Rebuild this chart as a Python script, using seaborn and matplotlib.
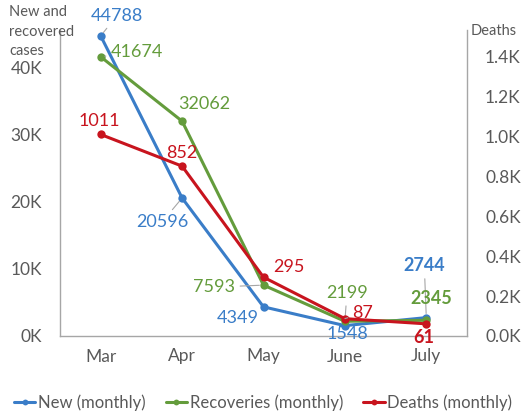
import matplotlib
matplotlib.use('Agg')
import matplotlib.pyplot as plt
import seaborn as sns
from matplotlib.ticker import FuncFormatter, MultipleLocator

months = ['Mar', 'Apr', 'May', 'June', 'July']
new_cases = [44788, 20596, 4349, 1548, 2744]
recoveries = [41674, 32062, 7593, 2199, 2345]
deaths = [1011, 852, 295, 87, 61]

BLUE = '#3A7DC8'
GREEN = '#649C3C'
RED = '#C8141E'
GREY_TXT = '#595959'
SPINE = '#A6A6A6'

# label offsets in pixels (dx, dy), leader line flag, bold flag
new_lbl = [(16, 20, True, False), (-20, -24, True, False), (-26, -11, False, False),
           (2, -8, False, False), (-2, 52, True, True)]
rec_lbl = [(36, 5, True, False), (22, 17, False, False), (-49, -2, True, False),
           (2, 28, True, False), (5, 22, False, True)]
dth_lbl = [(-1, 13, False, False), (0, 13, False, False), (25, 10, False, False),
           (18, 6, True, False), (-3, -14, False, True)]

sns.set_style('white')
plt.rcParams['font.family'] = ['Lato', 'DejaVu Sans']

fig = plt.figure(figsize=(5.26, 4.16), dpi=100)
ax = fig.add_axes([60 / 526, 1 - 336 / 416, (467 - 60) / 526, (336 - 30) / 416])
ax2 = ax.twinx()

sns.lineplot(x=months, y=new_cases, ax=ax, color=BLUE, marker='o', linewidth=2.2,
             markersize=6, markeredgewidth=0, label='New (monthly)', legend=False)
sns.lineplot(x=months, y=recoveries, ax=ax, color=GREEN, marker='o', linewidth=2.2,
             markersize=6, markeredgewidth=0, label='Recoveries (monthly)', legend=False)
sns.lineplot(x=months, y=deaths, ax=ax2, color=RED, marker='o', linewidth=2.2,
             markersize=6, markeredgewidth=0, label='Deaths (monthly)', legend=False)

ax.set_xlim(-0.5, 4.5)
ax.set_ylim(0, 45670)
ax2.set_ylim(0, 1535)
ax.yaxis.set_major_locator(MultipleLocator(10000))
ax2.yaxis.set_major_locator(MultipleLocator(200))
ax.yaxis.set_major_formatter(FuncFormatter(lambda v, p: f'{v / 1000:.0f}K'))
ax2.yaxis.set_major_formatter(FuncFormatter(lambda v, p: f'{v / 1000:.1f}K'))
ax.set_xlabel('')
ax.set_ylabel('')
ax2.set_ylabel('')

for a in (ax, ax2):
    a.tick_params(axis='both', length=0, labelsize=12.5, labelcolor=GREY_TXT)
    a.grid(False)
    for s in a.spines.values():
        s.set_color(SPINE)
        s.set_linewidth(1)
    a.spines['top'].set_visible(False)
ax.tick_params(axis='y', pad=13)
ax2.tick_params(axis='y', pad=13)
ax.tick_params(axis='x', pad=9)
ax.spines['right'].set_visible(False)
ax2.spines['left'].set_visible(False)
ax2.spines['bottom'].set_visible(False)


def add_labels(axis, values, specs, color):
    for i, (v, (dx, dy, leader, bold)) in enumerate(zip(values, specs)):
        kw = {}
        if leader:
            kw['arrowprops'] = dict(arrowstyle='-', color=SPINE, lw=0.8, shrinkA=1, shrinkB=3)
        axis.annotate(str(v), xy=(i, v), xytext=(dx, dy), textcoords='offset pixels',
                      ha='center', va='center', fontsize=13, color=color,
                      fontweight='bold' if bold else 'normal', **kw)


add_labels(ax, new_cases, new_lbl, BLUE)
add_labels(ax, recoveries, rec_lbl, GREEN)
add_labels(ax2, deaths, dth_lbl, RED)

fig.text(9 / 526, 1 - 5 / 416, 'New and\nrecovered\ncases', ha='left', va='top',
         fontsize=10.5, color=GREY_TXT, linespacing=1.5)
fig.text(471 / 526, 1 - 31 / 416, 'Deaths', ha='left', va='center',
         fontsize=10.5, color=GREY_TXT)

handles = ax.get_lines()[:2] + ax2.get_lines()[:1]
labels = ['New (monthly)', 'Recoveries (monthly)', 'Deaths (monthly)']
fig.legend(handles, labels, loc='center', bbox_to_anchor=(0.5, 1 - 403 / 416), ncol=3,
           frameon=False, fontsize=12, handlelength=1.3, handletextpad=0.15,
           columnspacing=1.2, labelcolor=GREY_TXT, markerscale=0.7)

fig.savefig('out.png', dpi=100)
